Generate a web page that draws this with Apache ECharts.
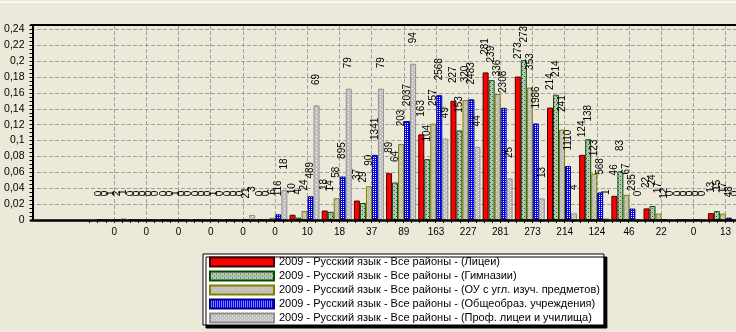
<!DOCTYPE html>
<html><head><meta charset="utf-8">
<script src="https://cdn.jsdelivr.net/npm/echarts@6/dist/echarts.min.js"></script>
<style>html,body{margin:0;padding:0;background:#ECE9D8;}#c{width:736px;height:332px;}</style>
</head><body><div id="c"></div>
<script>
// ---- data ----
const categories = ['0','0','0','0','0','0','10','18','37','89','163','227','281','273','214','124','46','22','0','13'];
const leadingBlank = ['', ''];
const seriesNames = [
  '2009 - Русский язык - Все районы - (Лицеи)',
  '2009 - Русский язык - Все районы - (Гимназии)',
  '2009 - Русский язык - Все районы - (ОУ с угл. изуч. предметов)',
  '2009 - Русский язык - Все районы - (Общеобраз. учреждения)',
  '2009 - Русский язык - Все районы - (Проф. лицеи и училища)'
];
const redShare   = [0,0,0,0,0,0,0.0066,0.0119,0.0245,0.0589,0.1078,0.1501,0.1858,0.1806,0.1415,0.0820,0.0304,0.0146,0,0.0086];
const greenShare = [0,0,0,0,0,0,0.0029,0.0103,0.0214,0.0472,0.0766,0.1127,0.1761,0.2012,0.1577,0.1017,0.0612,0.0177,0,0.0111];
const oliveShare = [0.0005,0,0.0005,0,0,0.0028,0.0113,0.0274,0.0425,0.0958,0.1213,0.1511,0.1586,0.1667,0.1138,0.0581,0.0316,0.0080,0,0.0080];
const blueShare  = [0.0001,0,0,0.0001,0.0013,0.0071,0.0299,0.0547,0.0820,0.1246,0.1571,0.1519,0.1412,0.1215,0.0679,0.0347,0.0144,0.0007,0,0.0029];
const grayShare  = [0.0021,0,0,0,0.0063,0.0377,0.1443,0.1653,0.1653,0.1967,0.1025,0.0921,0.0523,0.0272,0.0084,0.0021,0,0,0,0];
const redCount   = [0,0,0,0,0,0,10,18,37,89,163,227,281,273,214,124,46,22,0,13];
const greenCount = [0,0,0,0,0,0,4,14,29,64,104,153,239,273,214,138,83,24,0,15];
const oliveCount = [1,0,1,0,0,6,24,58,90,203,257,320,336,353,241,123,67,17,0,17];
const blueCount  = [2,0,0,1,21,116,489,895,1341,2037,2568,2483,2308,1986,1110,568,235,12,0,48];
const grayCount  = [1,0,0,0,3,18,69,79,79,94,49,44,25,13,4,1,0,0,0,0];
const yTicks = [0,0.02,0.04,0.06,0.08,0.1,0.12,0.14,0.16,0.18,0.2,0.22,0.24];

// ---- patterns ----
function pattern(w, h, bg, dots, dotColor) {
  const c = document.createElement('canvas');
  c.width = w; c.height = h;
  const g = c.getContext('2d');
  g.fillStyle = bg; g.fillRect(0, 0, w, h);
  g.fillStyle = dotColor;
  dots.forEach(d => g.fillRect(d[0], d[1], 1, 1));
  return { image: c, repeat: 'repeat' };
}
const fills = [
  '#FF0000',
  pattern(4, 4, '#C0C0C0', [[0,0],[2,2]], '#008000'),
  pattern(6, 6, '#C0C0C0', [[1,1],[4,4]], '#FFFF00'),
  pattern(2, 2, '#0000FF', [[1,1]], '#FFFFFF'),
  pattern(4, 4, '#C0C0C0', [[0,0],[2,2]], '#FFFFFF')
];
const borders = ['#400000', '#005000', '#808000', '#000080', '#909090'];
const shares = [redShare, greenShare, oliveShare, blueShare, grayShare];
const counts = [redCount, greenCount, oliveCount, blueCount, grayCount];

const FONT = 'Liberation Sans';
const dash = { color: '#A0A0A0', type: [4, 2], width: 1 };
const allCats = leadingBlank.concat(categories);

const series = seriesNames.map((name, k) => ({
  name, type: 'bar', xAxisIndex: 0, yAxisIndex: 0,
  barGap: '0%', barCategoryGap: '6.8%',
  data: ['-', '-'].concat(shares[k]),
  itemStyle: { color: fills[k], borderColor: borders[k], borderWidth: 1 },
  label: {
    show: true, position: 'top', distance: 26, rotate: 90,
    align: 'center', verticalAlign: 'middle',
    fontFamily: FONT, fontSize: 10, color: '#000',
    formatter: p => String(counts[k][p.dataIndex - 2])
  }
}));

const chart = echarts.init(document.getElementById('c'), null, { renderer: 'canvas' });
chart.setOption({
  animation: false,
  backgroundColor: '#ECE9D8',
  textStyle: { fontFamily: FONT },
  graphic: [{ type: 'rect', shape: { x: 0, y: 1.5, width: 736, height: 1.5 }, style: { fill: '#FFFFFF' }, silent: true }],
  grid: [
    { left: 31, right: -3, top: 25, bottom: 112, outerBoundsMode: 'none' },
    { left: 89.7, right: -3, top: 25, bottom: 112, outerBoundsMode: 'none' },
    { left: 114.2, right: -3, top: 25, bottom: 112, outerBoundsMode: 'none' }
  ],
  xAxis: [
    { type: 'category', gridIndex: 0, data: allCats, z: 5,
      axisLine: { lineStyle: { color: '#000', width: 2.5 } },
      axisTick: { show: false }, axisLabel: { show: false }, splitLine: { show: false } },
    { type: 'category', gridIndex: 0, position: 'top', data: allCats, z: 5,
      axisLine: { lineStyle: { color: '#000', width: 2 } },
      axisTick: { show: false }, axisLabel: { show: false }, splitLine: { show: false } },
    { type: 'value', gridIndex: 1, min: 0, max: 20.177, interval: 0.25,
      axisLine: { show: false },
      axisTick: { show: true, length: 3, lineStyle: { color: '#000', width: 1 } },
      axisLabel: { show: false }, splitLine: { show: false } },
    { type: 'value', gridIndex: 2, min: 0, max: 19.416, interval: 1,
      axisLine: { show: false }, axisTick: { show: false },
      axisLabel: { margin: 7, fontSize: 10, color: '#000', fontFamily: FONT, showMaxLabel: false,
        formatter: v => (Number.isInteger(v) && categories[v] !== undefined) ? categories[v] : '' },
      splitLine: { show: true, showMaxLine: false, lineStyle: dash } }
  ],
  yAxis: [
    { type: 'value', gridIndex: 0, min: 0, max: 0.2455, interval: 0.02, offset: -1.5,
      axisLine: { show: true, lineStyle: { color: '#000', width: 2 } },
      axisTick: { show: true, length: 3, lineStyle: { color: '#000' } },
      minorTick: { show: true, splitNumber: 4, length: 3, lineStyle: { color: '#000' } },
      axisLabel: { margin: 8, fontSize: 10.5, color: '#000', fontFamily: FONT, showMaxLabel: false,
        formatter: v => {
          const t = yTicks.find(x => Math.abs(x - v) < 1e-6);
          return t === undefined ? '' : String(t).replace('.', ',');
        } },
      splitLine: { show: true, showMaxLine: false, lineStyle: dash } },
    { type: 'value', gridIndex: 1, min: 0, max: 1, show: false },
    { type: 'value', gridIndex: 2, min: 0, max: 1, show: false }
  ],
  legend: {
    orient: 'vertical', left: 203, top: 254, padding: [1, 4, 0, 6],
    itemWidth: 64, itemHeight: 9, itemGap: 0, icon: 'rect', selectedMode: false,
    backgroundColor: '#FFFFFF', borderColor: '#000', borderWidth: 1,
    shadowColor: '#000', shadowBlur: 0, shadowOffsetX: 3, shadowOffsetY: 3,
    textStyle: { fontSize: 11, color: '#000', lineHeight: 14, fontFamily: FONT },
    data: seriesNames
  },
  series
});
</script></body></html>
